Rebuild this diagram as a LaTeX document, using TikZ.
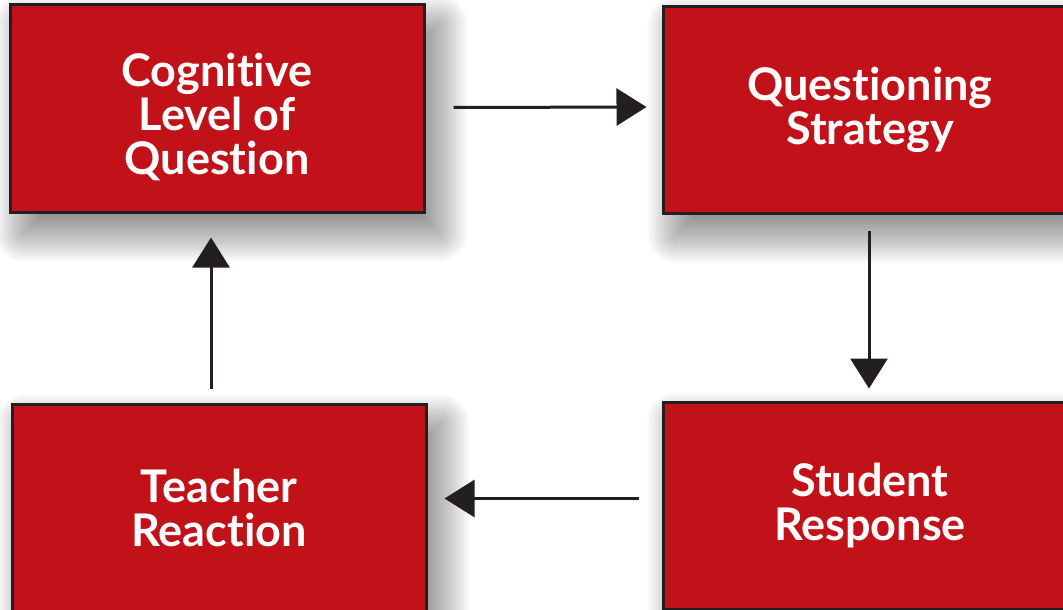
\documentclass[tikz,border=0pt]{standalone}
\usepackage{fontspec}
\setmainfont{Lato}[Ligatures={NoCommon}]
\usepackage{tikz}
\usetikzlibrary{arrows.meta,backgrounds}
\definecolor{boxred}{HTML}{C1121A}
\definecolor{inkdark}{HTML}{231F20}

\begin{document}
\begin{tikzpicture}[
    x=1pt, y=-1pt,
    box/.style={draw=inkdark, line width=3pt, fill=boxred, minimum width=414pt, minimum height=207pt,
        text=white, font=\fontsize{45}{44}\selectfont\bfseries, align=center},
    flow/.style={draw=inkdark, line width=3pt, -{Triangle[length=30pt, width=37pt]}},
    softshade/.style={fill=black, opacity=0.021}
]
\useasboundingbox (0,0) rectangle (1063,610);
\begin{scope}
\clip (0,0) rectangle (1063,610);
\node[box] (cog) at (217, 108.5) {\rule{0pt}{50pt}Cognitive\\Level of\\Question};
\node[box] (quest) at (870, 110) {Questioning\\Strategy};
\node[box] (teach) at (219, 507.5) {Teacher\\Reaction};
\node[box] (stud) at (870, 505.5) {Student\\Response};
\end{scope}

\draw[flow] ([xshift=28pt, yshift=1pt]cog.east) -- ([xshift=-15pt, yshift=3pt]quest.west);
\draw[flow] ([xshift=-1pt, yshift=-16pt]quest.south) -- ([xshift=-1pt, yshift=12pt]stud.north);
\draw[flow] ([xshift=-23pt, yshift=7pt]stud.west) -- ([xshift=17pt, yshift=9pt]teach.east);
\draw[flow] ([xshift=-8pt, yshift=14pt]teach.north) -- ([xshift=-6pt, yshift=-24pt]cog.south);

% soft shadows behind the boxes
\begin{scope}[on background layer]
\fill[white] (0,0) rectangle (1063,610);
\clip (0,0) rectangle (1063,610);
\foreach \n in {cog,quest,teach,stud} {
  \foreach \i in {0,...,28} {
    \pgfmathsetmacro\rc{max(2*\i-28,1)}
    \fill[softshade, rounded corners=\rc pt]
      ([xshift=42pt-2*\i pt, yshift=8pt-2*\i pt]\n.south west) rectangle
      ([xshift=2*\i pt-14pt, yshift=2*\i pt-48pt]\n.north east);
  }
}
\end{scope}
\end{tikzpicture}
\end{document}
